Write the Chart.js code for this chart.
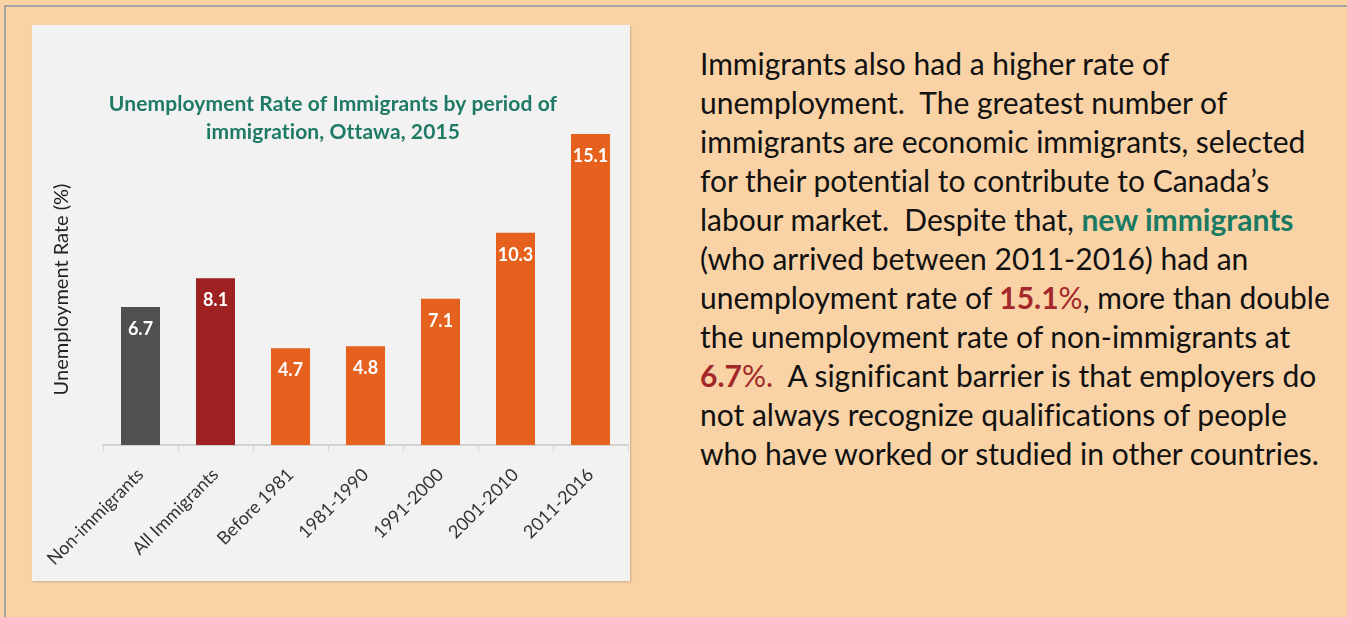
<!DOCTYPE html>
<html>
<head>
<meta charset="utf-8">
<script src="https://cdn.jsdelivr.net/npm/chart.js@4"></script>
<style>
    html, body { margin: 0; padding: 0; }
    body {
        width: 1347px;
        height: 617px;
        background: #f9d3a6;
        position: relative;
        overflow: hidden;
        font-family: Lato, sans-serif;
    }
    .frame {
        position: absolute;
        left: 4px;
        top: 5px;
        width: 1400px;
        height: 700px;
        border-left: 2px solid #a6a6a6;
        border-top: 2px solid #a6a6a6;
    }
    .panel {
        position: absolute;
        left: 32px;
        top: 25px;
        width: 598px;
        height: 556px;
        background: #f2f2f2;
        box-shadow: 1px 1px 2px rgba(0,0,0,0.18);
    }
    .text {
        position: absolute;
        left: 700px;
        top: 44px;
        font-size: 30px;
        line-height: 39px;
        color: #111;
        white-space: nowrap;
        font-variant-ligatures: none;
    }
    .green { color: #1b7a62; font-weight: bold; }
    .red { color: #a3282a; }
    .red b { font-weight: bold; }
</style>
</head>
<body>
<div class="frame"></div>
<div class="panel"><canvas id="immChart"></canvas></div>
<div class="text">
    Immigrants also had a higher rate of<br>
    unemployment.&nbsp; The greatest number of<br>
    immigrants are economic immigrants, selected<br>
    for their potential to contribute to Canada’s<br>
    labour market.&nbsp; Despite that, <span class="green">new immigrants</span><br>
    (who arrived between 2011-2016) had an<br>
    unemployment rate of <span class="red"><b>15.1</b>%</span>, more than double<br>
    the unemployment rate of non-immigrants at<br>
    <span class="red"><b>6.7</b>%.</span>&nbsp; A significant barrier is that employers do<br>
    not always recognize qualifications of people<br>
    who have worked or studied in other countries.
</div>

<script>
const categories = ['Non-immigrants', 'All Immigrants', 'Before 1981', '1981-1990', '1991-2000', '2001-2010', '2011-2016'];
const rates = [6.7, 8.1, 4.7, 4.8, 7.1, 10.3, 15.1];
const barColors = ['#505050', '#9e2222', '#e5611d', '#e5611d', '#e5611d', '#e5611d', '#e5611d'];
const titleLines = ['Unemployment Rate of Immigrants by period of', 'immigration, Ottawa, 2015'];

/* value labels inside the bars */
const valueLabels = {
    id: 'valueLabels',
    afterDatasetsDraw(chart) {
        const ctx = chart.ctx;
        const meta = chart.getDatasetMeta(0);
        ctx.save();
        ctx.fillStyle = '#ffffff';
        ctx.font = 'bold 18px Lato';
        ctx.textAlign = 'center';
        ctx.textBaseline = 'middle';
        meta.data.forEach((bar, i) => {
            ctx.fillText(rates[i].toFixed(1), bar.x, bar.y + 22);
        });
        ctx.restore();
    }
};

/* chart title, drawn beside the tall bar like the original */
const sideTitle = {
    id: 'sideTitle',
    afterDraw(chart) {
        const ctx = chart.ctx;
        ctx.save();
        ctx.fillStyle = '#1e7a64';
        ctx.font = 'bold 21px Lato';
        ctx.letterSpacing = '0.1px'; // keeps "ti" from turning into a ligature
        ctx.textAlign = 'center';
        ctx.textBaseline = 'middle';
        titleLines.forEach((t, i) => {
            ctx.fillText(t, chart.width / 2 + 2, chart.chartArea.top - 30 + i * 28);
        });
        ctx.restore();
    }
};

new Chart(document.getElementById('immChart'), {
    type: 'bar',
    data: {
        labels: categories,
        datasets: [{
            data: rates,
            backgroundColor: barColors,
            barPercentage: 0.52,
            categoryPercentage: 1
        }]
    },
    options: {
        responsive: true,
        maintainAspectRatio: false,
        animation: false,
        layout: { padding: { top: 109, right: 2, left: 0, bottom: 0 } },
        plugins: {
            legend: { display: false },
            tooltip: { enabled: false }
        },
        scales: {
            x: {
                afterFit: s => { s.height = 136; },
                grid: {
                    drawOnChartArea: false,
                    tickLength: 6,
                    color: '#d2d2d2',
                    offset: true
                },
                border: { color: '#d2d2d2', width: 2 },
                ticks: {
                    color: '#333',
                    font: { family: 'Lato', size: 18 },
                    minRotation: 45,
                    maxRotation: 45,
                    autoSkip: false,
                    padding: 13
                }
            },
            y: {
                min: 0,
                max: 15.1,
                afterFit: s => { s.width = 71; },
                grid: { display: false },
                border: { display: false },
                ticks: { display: false },
                title: {
                    display: true,
                    text: 'Unemployment Rate (%)',
                    color: '#222',
                    font: { family: 'Lato', size: 20 },
                    padding: { top: 18, bottom: 0 }
                }
            }
        }
    },
    plugins: [valueLabels, sideTitle]
});
</script>
</body>
</html>
